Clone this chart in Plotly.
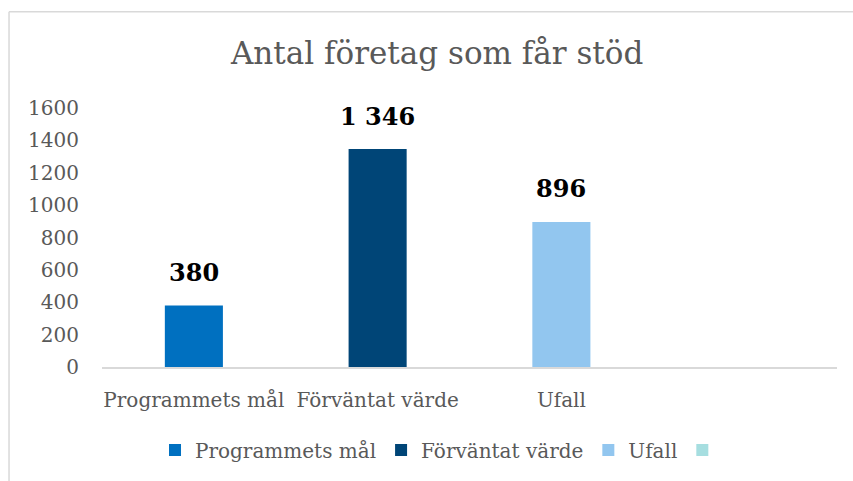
import plotly.graph_objects as go

title_text = "Antal företag som får stöd"
categories = ["Programmets mål", "Förväntat värde", "Ufall", " "]
values = [380, 1346, 896, None]
colors = ["#0070C0", "#004577", "#92C6EF", "#A6DEE0"]
y_ticks = [0, 200, 400, 600, 800, 1000, 1200, 1400, 1600]

FONT = "DejaVu Serif"
GRAY = "#595959"

fig = go.Figure()
for cat, val, col in zip(categories, values, colors):
    fig.add_trace(go.Bar(
        x=[cat], y=[val], name=cat, marker=dict(color=col, line=dict(width=0)),
        width=0.316, hoverinfo="skip",
    ))

for cat, val in zip(categories, values):
    if val is None:
        continue
    fig.add_annotation(
        x=cat, y=val, xref="x", yref="y",
        text=f"{val:,}".replace(",", " "),
        showarrow=False, yanchor="middle", yshift=33,
        font=dict(family=FONT, size=24, color="#000000", weight="bold"),
    )

# chart border (top and left edges visible)
fig.add_shape(type="line", xref="paper", yref="paper", x0=-0.1265, x1=2, y0=1.372, y1=1.372,
              line=dict(color="#D9D9D9", width=1.5))
fig.add_shape(type="line", xref="paper", yref="paper", x0=-0.1265, x1=-0.1265, y0=1.372, y1=-2,
              line=dict(color="#D9D9D9", width=1.5))

fig.update_layout(
    width=853, height=481,
    margin=dict(l=102, r=16, t=108, b=112),
    paper_bgcolor="white", plot_bgcolor="white",
    barmode="overlay",
    title=dict(text=title_text, x=0.456, xref="paper", xanchor="center",
               y=1 - 53 / 481, yref="container", yanchor="middle",
               font=dict(family=FONT, size=31, color=GRAY)),
    xaxis=dict(type="category", categoryorder="array", categoryarray=categories,
               range=[-0.5, 3.5], showgrid=False, showline=True, linecolor="#D9D9D9",
               linewidth=1.5, ticks="", ticklabelstandoff=14,
               tickfont=dict(family=FONT, size=20, color=GRAY), zeroline=False),
    yaxis=dict(range=[0, 1600], tickvals=y_ticks, showgrid=False, showline=False,
               zeroline=False, ticks="", ticklabelstandoff=22,
               tickfont=dict(family=FONT, size=20, color=GRAY)),
    legend=dict(orientation="h", x=0.466, xanchor="center", y=-0.32, yanchor="middle",
                font=dict(family=FONT, size=20, color=GRAY), itemclick=False,
                traceorder="normal"),
    showlegend=True,
)

fig.write_html("out.html", config={"displayModeBar": False},
               post_script="document.body.style.margin='0';document.body.style.overflow='hidden';")
